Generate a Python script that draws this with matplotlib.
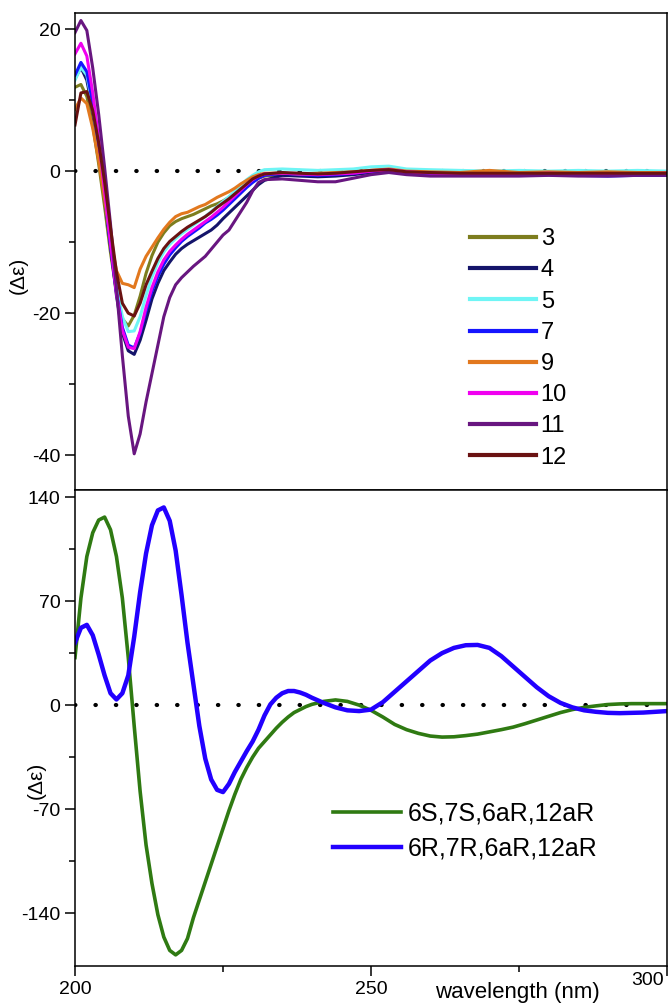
import matplotlib
matplotlib.use("Agg")
import matplotlib.pyplot as plt

plt.rcParams['font.family'] = ['Liberation Sans', 'DejaVu Sans']
plt.rcParams['axes.unicode_minus'] = False

# ---- top panel: measured CD spectra ----
wl_top = [200, 201, 202, 203, 204, 205, 206, 207, 208, 209, 210, 211, 212, 213, 214, 215,
          216, 217, 218, 219, 220, 221, 222, 223, 224, 225, 226, 227, 228, 229, 230, 231, 232,
          235, 238, 241, 244, 247, 250, 253, 256, 260, 265, 270, 275, 280, 285, 290, 295, 300]

cd3 = [11.8, 12.2, 10.5, 6.5, 1.0, -5.0, -11.5, -17.0, -20.8, -21.8, -20.3, -17.6, -14.4, -11.9, -10.0, -8.7,
       -7.7, -7.1, -6.7, -6.4, -6.1, -5.7, -5.3, -4.9, -4.6, -4.2, -3.7, -3.2, -2.7, -2.1, -1.5, -1.0, -0.7,
       -0.5, -0.6, -0.6, -0.5, -0.3, 0.0, 0.1, -0.1, -0.2, -0.3, -0.2, -0.3, -0.2, -0.3, -0.2, -0.3, -0.3]
cd4 = [13.0, 14.6, 12.8, 8.5, 3.0, -3.5, -10.5, -17.5, -22.8, -25.3, -25.8, -23.8, -21.0, -18.0, -15.8, -14.0,
       -12.8, -11.7, -10.9, -10.3, -9.8, -9.3, -8.8, -8.3, -7.6, -6.7, -5.9, -5.1, -4.3, -3.5, -2.7, -1.9, -1.3,
       -0.6, -0.7, -0.8, -0.7, -0.5, -0.2, 0.1, -0.3, -0.4, -0.5, -0.5, -0.6, -0.5, -0.6, -0.6, -0.5, -0.5]
cd5 = [12.8, 14.6, 13.5, 9.0, 3.2, -3.2, -9.8, -16.0, -20.5, -22.6, -22.5, -20.5, -17.5, -14.9, -12.9, -11.4,
       -10.3, -9.5, -8.8, -8.2, -7.6, -7.0, -6.4, -5.7, -5.0, -4.3, -3.6, -2.8, -2.0, -1.2, -0.6, -0.1, 0.2,
       0.3, 0.2, 0.1, 0.2, 0.3, 0.6, 0.7, 0.3, 0.2, 0.1, 0.0, 0.1, 0.0, 0.1, 0.0, 0.1, 0.0]
cd7 = [13.5, 15.3, 14.0, 9.5, 3.5, -3.5, -10.5, -17.0, -22.0, -24.5, -24.9, -22.8, -19.7, -16.9, -14.8, -13.1,
       -11.8, -10.8, -9.9, -9.2, -8.6, -8.0, -7.3, -6.8, -6.2, -5.5, -4.7, -3.9, -3.1, -2.3, -1.6, -1.0, -0.6,
       -0.3, -0.5, -0.6, -0.5, -0.3, 0.0, 0.2, -0.2, -0.4, -0.5, -0.6, -0.6, -0.5, -0.6, -0.7, -0.6, -0.6]
cd9 = [8.7, 10.3, 9.5, 6.0, 1.5, -4.0, -9.5, -14.0, -15.8, -16.0, -16.4, -13.8, -12.0, -10.7, -9.4, -8.2,
       -7.2, -6.4, -6.0, -5.8, -5.4, -5.0, -4.7, -4.2, -3.7, -3.3, -2.9, -2.4, -1.8, -1.3, -0.8, -0.5, -0.3,
       -0.3, -0.4, -0.3, -0.2, -0.1, 0.1, 0.3, 0.0, -0.1, -0.2, 0.1, -0.2, -0.1, -0.2, -0.1, -0.2, -0.2]
cd10 = [16.5, 18.0, 16.2, 11.0, 4.5, -2.8, -10.2, -17.2, -22.4, -24.8, -25.0, -22.6, -19.2, -16.4, -14.2, -12.5,
        -11.3, -10.4, -9.6, -8.9, -8.3, -7.7, -7.1, -6.5, -5.8, -5.1, -4.3, -3.5, -2.7, -1.9, -1.2, -0.7, -0.4,
        -0.3, -0.4, -0.5, -0.4, -0.3, 0.0, 0.2, -0.1, -0.3, -0.4, -0.4, -0.4, -0.3, -0.4, -0.4, -0.4, -0.3]
cd11 = [19.5, 21.2, 19.8, 14.5, 8.0, 0.5, -7.5, -16.5, -26.0, -34.5, -39.8, -37.0, -32.5, -28.5, -24.5, -20.5,
        -17.8, -16.0, -15.0, -14.2, -13.4, -12.7, -12.0, -11.0, -10.0, -9.0, -8.3, -7.0, -5.7, -4.4, -2.8, -1.6, -1.2,
        -1.1, -1.3, -1.5, -1.5, -1.0, -0.5, -0.2, -0.5, -0.7, -0.7, -0.7, -0.7, -0.6, -0.7, -0.7, -0.6, -0.6]
cd12 = [6.5, 11.0, 11.2, 8.5, 4.0, -1.5, -8.0, -14.2, -18.6, -20.0, -20.4, -18.6, -16.0, -14.1, -12.3, -10.9,
        -9.9, -9.2, -8.5, -7.9, -7.4, -6.9, -6.4, -5.8, -5.1, -4.5, -3.9, -3.2, -2.5, -1.8, -1.1, -0.7, -0.4,
        -0.2, -0.3, -0.4, -0.3, -0.1, 0.1, 0.2, -0.1, -0.2, -0.3, -0.3, -0.3, -0.3, -0.3, -0.3, -0.3, -0.3]

top_labels = ['3', '4', '5', '7', '9', '10', '11', '12']
top_colors = ['#7d7d1e', '#14146a', '#6ff5f5', '#1515ff', '#e2781e', '#f000f0', '#681680', '#6a1212']

# ---- bottom panel: calculated ECD ----
wl_bot = [200, 201, 202, 203, 204, 205, 206, 207, 208, 209, 210, 211, 212, 213, 214, 215,
          216, 217, 218, 219, 220, 221, 222, 223, 224, 225, 226, 227, 228, 229, 230, 231,
          232, 233, 234, 235, 236, 237, 238, 239, 240, 242, 244, 246, 248, 250, 252, 254,
          256, 258, 260, 262, 264, 266, 268, 270, 272, 274, 276, 278, 280, 282, 284, 286,
          288, 290, 292, 294, 296, 298, 300]
ecd_ss = [32, 72, 100, 116, 124.5, 126.5, 118, 100, 72, 32, -14, -58, -94, -120, -141, -156,
          -165, -168, -165, -157, -143, -131, -119, -107, -95, -83, -71, -60, -50, -42, -35, -29,
          -24.5, -20, -15.5, -11.5, -8, -5, -3, -1, 0.5, 2.5, 3.5, 2.5, 0, -3.5, -8, -13,
          -16.5, -19, -20.8, -21.5, -21.3, -20.5, -19.5, -18, -16.5, -14.8, -12.5, -10, -7.5, -5, -3, -1.5,
          -0.5, 0.4, 0.8, 1, 1, 1, 1]
ecd_rr = [42, 52, 54, 47, 34, 20, 8, 3.8, 8, 20, 46, 76, 102, 121, 131, 133,
          124, 104, 74, 42, 14, -14, -36, -50, -57, -58.5, -53, -45, -38, -31, -24.5, -16.5,
          -7, 0.5, 5, 8, 9.5, 9.5, 8.5, 7, 5, 1.5, -1.5, -3.5, -4, -3, 2, 9,
          16, 23, 30, 35, 38.5, 40.3, 40.5, 38.5, 33, 26, 19, 12, 6, 1.5, -1.5, -3.5,
          -4.5, -5.2, -5.4, -5.2, -5, -4.5, -4]
bot_labels = ['6S,7S,6aR,12aR', '6R,7R,6aR,12aR']
bot_colors = ['#2f7a12', '#2200ff']

fig = plt.figure(figsize=(6.69, 10.05), dpi=100)
ax1 = fig.add_axes([0.1121, 0.5124, 0.885, 0.4746])
ax2 = fig.add_axes([0.1121, 0.0388, 0.885, 0.4736])

for ax in (ax1, ax2):
    ax.axhline(0, color='black', lw=3, dashes=(0.1, 4.8), dash_capstyle='round', zorder=1)
    for s in ax.spines.values():
        s.set_linewidth(1.1)
    ax.tick_params(axis='both', which='major', length=7, width=1.1, labelsize=14, direction='out')
    ax.tick_params(axis='both', which='minor', length=4, width=1.1, direction='out')
    ax.set_xlim(200, 300)

# top
tops = [cd3, cd4, cd5, cd7, cd9, cd10, cd11, cd12]
for y, lab, c in zip(tops, top_labels, top_colors):
    ax1.plot(wl_top, y, color=c, lw=2.2, label=lab, zorder=2)
ax1.set_ylim(-44.9, 22.25)
ax1.set_yticks([20, 0, -20, -40])
ax1.set_yticks([10, -10, -30], minor=True)
ax1.set_xticks([])
ax1.set_xticks([], minor=True)
ax1.set_ylabel('(Δε)', fontsize=15)
ax1.yaxis.set_label_coords(-0.08, 0.45)
leg1 = ax1.legend(loc='upper left', bbox_to_anchor=(0.667, 0.549), frameon=False,
                  fontsize=17, handlelength=2.8, handletextpad=0.2, labelspacing=0.39,
                  borderpad=0, borderaxespad=0)
for h in leg1.get_lines():
    h.set_linewidth(3)

# bottom
for y, lab, c, lw in zip([ecd_ss, ecd_rr], bot_labels, bot_colors, [2.6, 3.2]):
    ax2.plot(wl_bot, y, color=c, lw=lw, label=lab, zorder=2)
ax2.set_ylim(-175.5, 144.7)
ax2.set_yticks([140, 70, 0, -70, -140])
ax2.set_yticks([105, 35, -35, -105], minor=True)
ax2.set_xticks([200, 250, 300])
ax2.set_xticklabels(['200', '250', ''])
ax2.set_xticks([225, 275], minor=True)
ax2.set_ylabel('(Δε)', fontsize=15)
ax2.yaxis.set_label_coords(-0.05, 0.39)
ax2.legend(loc='upper left', bbox_to_anchor=(0.436, 0.345), frameon=False,
           fontsize=18, handlelength=2.7, handletextpad=0.3, labelspacing=0.42,
           borderpad=0, borderaxespad=0)

fig.text(648 / 669, 1 - 980 / 1005, '300', fontsize=14, ha='center', va='center')
fig.text(517 / 669, 1 - 992 / 1005, 'wavelength (nm)', fontsize=16, ha='center', va='center')

fig.savefig('out.png', dpi=100)
